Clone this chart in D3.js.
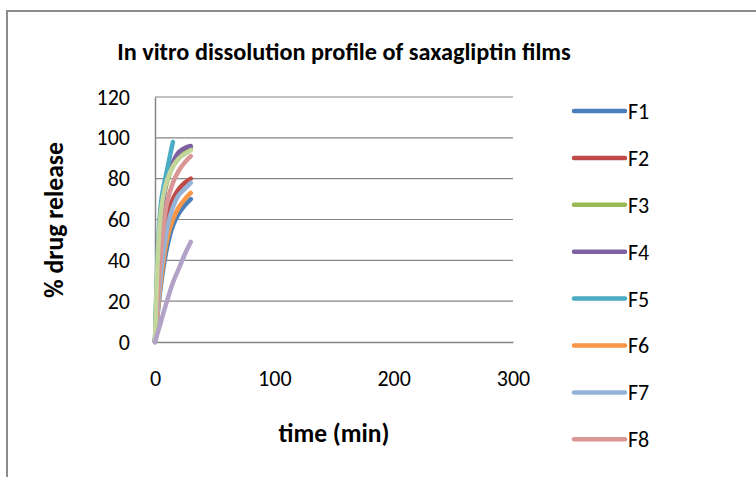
<!DOCTYPE html>
<html>
<head>
<meta charset="utf-8">
<script src="https://cdn.jsdelivr.net/npm/d3@7"></script>
<style>
  html, body { margin: 0; padding: 0; background: #fff; }
  svg { display: block; }
  text { font-family: Carlito, Calibri, Lato, "Open Sans", sans-serif; fill: #000; }
</style>
</head>
<body>
<svg id="chart" width="756" height="477"></svg>
<script>
// Cumulative % drug released over time for each film formulation
const timePoints = [0, 5, 10, 15, 20, 25, 30];
const timePointsF5 = [0, 5, 10, 15];
const seriesNames = ["F1", "F2", "F3", "F4", "F5", "F6", "F7", "F8", "F9", "F10"];
const F1  = [0, 28, 46, 57, 63, 67, 70];
const F2  = [0, 38, 60, 70, 75, 78, 80];
const F3  = [0, 62, 78, 86, 90, 93, 95];
const F4  = [0, 58, 80, 88, 93, 95, 96];
const F5  = [0, 68, 84, 98];
const F6  = [0, 30, 50, 60, 66, 70, 73];
const F7  = [0, 34, 55, 66, 72, 75, 78];
const F8  = [0, 44, 68, 78, 84, 88, 91];
const F9  = [0, 64, 79, 86, 90, 92, 94];
const F10 = [0, 10, 20, 29, 36, 43, 49];
const xTicks = [0, 100, 200, 300];
const yTicks = [0, 20, 40, 60, 80, 100, 120];

const seriesColors = ["#4A7EBB", "#BE4B48", "#98B954", "#7D60A0", "#4BACC6",
                      "#F79646", "#95B3D7", "#D99694", "#C3D69B", "#B3A2C7"];
const seriesData = [F1, F2, F3, F4, F5, F6, F7, F8, F9, F10];
const legendCount = 8;
const labelFont = "Carlito, Calibri, Lato, 'Open Sans', sans-serif";
const labelSize = 22;

const svg = d3.select("#chart");

// chart border
svg.append("path")
  .attr("d", "M7,477 L7,11 L756,11")
  .attr("fill", "none")
  .attr("stroke", "#8c8c8c")
  .attr("stroke-width", 2);

const x = d3.scaleLinear().domain([0, 300]).range([155, 513]);
const y = d3.scaleLinear().domain([0, 120]).range([342, 97]);

// horizontal gridlines
svg.append("g")
  .selectAll("line")
  .data(yTicks.filter(d => d > 0))
  .join("line")
  .attr("x1", x(0)).attr("x2", x(300))
  .attr("y1", d => y(d)).attr("y2", d => y(d))
  .attr("stroke", "#868686").attr("stroke-width", 1.2);

// axes
const yAxis = svg.append("g")
  .attr("transform", `translate(${x(0)},0)`)
  .call(d3.axisLeft(y).tickValues(yTicks).tickSize(0).tickPadding(25));
const xAxis = svg.append("g")
  .attr("transform", `translate(0,${y(0)})`)
  .call(d3.axisBottom(x).tickValues(xTicks).tickSize(0).tickPadding(33));
[yAxis, xAxis].forEach(g => {
  g.attr("font-size", labelSize).attr("font-family", labelFont);
  g.select(".domain").attr("stroke", "#868686").attr("stroke-width", 1.5);
  g.selectAll("text").attr("fill", "#000");
});
xAxis.selectAll("text").attr("dy", "0.5em");

// series lines
const line = d3.line()
  .x(d => x(d[0]))
  .y(d => y(d[1]))
  .curve(d3.curveCatmullRom.alpha(0.5));

const drawOrder = [0, 1, 2, 3, 4, 5, 6, 7, 8, 9];
svg.append("g")
  .selectAll("path")
  .data(drawOrder)
  .join("path")
  .attr("d", i => {
    const t = i === 4 ? timePointsF5 : timePoints;
    return line(seriesData[i].map((v, k) => [t[k], v]));
  })
  .attr("fill", "none")
  .attr("stroke", i => seriesColors[i])
  .attr("stroke-width", 4.5)
  .attr("stroke-linecap", "round")
  .attr("stroke-linejoin", "round");

// titles
function fitText(sel, width) {
  const w = sel.node().getComputedTextLength();
  const fs = parseFloat(sel.attr("font-size"));
  sel.attr("font-size", fs * width / w);
}
const title = svg.append("text")
  .attr("x", 344).attr("y", 60)
  .attr("text-anchor", "middle")
  .attr("font-size", 20).attr("font-weight", "bold")
  .text("In vitro dissolution profile of saxagliptin films");
fitText(title, 454);

const xTitle = svg.append("text")
  .attr("x", 334).attr("y", 442)
  .attr("text-anchor", "middle")
  .attr("font-size", 18).attr("font-weight", "bold")
  .text("time (min)");
fitText(xTitle, 111);

const yTitle = svg.append("text")
  .attr("transform", "translate(63,220) rotate(-90)")
  .attr("text-anchor", "middle")
  .attr("font-size", 18).attr("font-weight", "bold")
  .text("% drug release");
fitText(yTitle, 156);

// legend
const legend = svg.append("g")
  .selectAll("g")
  .data(seriesNames.slice(0, legendCount))
  .join("g")
  .attr("transform", (d, i) => `translate(0,${111 + i * 46.9})`);
legend.append("line")
  .attr("x1", 574).attr("x2", 625)
  .attr("stroke", (d, i) => seriesColors[i])
  .attr("stroke-width", 4.5)
  .attr("stroke-linecap", "round");
legend.append("text")
  .attr("x", 628).attr("y", 0).attr("dy", "0.36em")
  .attr("font-size", labelSize)
  .text(d => d);
</script>
</body>
</html>
